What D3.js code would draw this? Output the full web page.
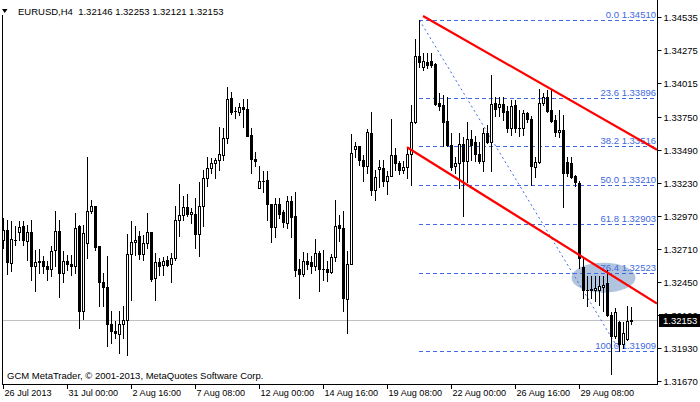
<!DOCTYPE html>
<html><head><meta charset="utf-8">
<script src="https://cdn.jsdelivr.net/npm/d3@7"></script>
<style>
html,body{margin:0;padding:0;background:#fff;}
svg{display:block;font-family:"Liberation Sans",Arial,sans-serif;}
</style></head><body>
<svg id="chart" width="700" height="402"></svg>
<script>
// ---------- DATA ----------
const symbolTitle = "EURUSD,H4";
const copyright = "GCM MetaTrader, \u00A9 2001-2013, MetaQuotes Software Corp.";
const opens = [1.32782,1.32861,1.32599,1.32782,1.32840,1.32887,1.32769,1.32843,1.32573,1.32607,
1.32615,1.32578,1.32552,1.32699,1.32853,1.32520,1.32615,1.32594,1.32573,1.32887,
1.32219,1.32756,1.33010,1.33050,1.32730,1.32447,1.32410,1.32120,1.32067,1.32041,
1.32120,1.32154,1.32672,1.32764,1.32814,1.32667,1.32756,1.32843,1.32478,1.32604,
1.32583,1.32620,1.32591,1.32638,1.32940,1.32976,1.33042,1.32984,1.32987,1.32827,
1.33044,1.33267,1.33346,1.33385,1.33411,1.33445,1.33581,1.33896,1.33796,1.33791,
1.33825,1.33809,1.33607,1.33419,1.33186,1.33246,1.33254,1.33065,1.32879,1.33065,
1.33000,1.32913,1.33084,1.32966,1.32554,1.32512,1.32617,1.32604,1.32573,1.32677,
1.32552,1.32554,1.32531,1.32643,1.32895,1.32874,1.32316,1.32591,1.33495,1.33521,
1.33411,1.33366,1.33621,1.33170,1.33338,1.33346,1.33241,1.33280,1.33450,1.33385,
1.33327,1.33353,1.33458,1.33707,1.34228,1.34145,1.34184,1.34189,1.34163,1.33856,
1.33843,1.33717,1.33529,1.33359,1.33385,1.33534,1.33398,1.33573,1.33550,1.33458,
1.33398,1.33621,1.33555,1.33856,1.33830,1.33849,1.33796,1.33660,1.33843,1.33660,
1.33660,1.33778,1.33731,1.33353,1.33393,1.33856,1.33909,1.33804,1.33725,1.33626,
1.33647,1.33390,1.33385,1.33280,1.33232,1.32571,1.32388,1.32393,1.32383,1.32383,
1.32406,1.32443,1.32190,1.32021,1.32137,1.31964,1.32003,1.32146];
const highs = [1.32953,1.32934,1.32927,1.32887,1.32927,1.32927,1.32895,1.32940,1.32704,1.32709,
1.32651,1.32612,1.32730,1.33010,1.32940,1.32691,1.32665,1.32665,1.32992,1.32900,
1.32900,1.33432,1.33092,1.33050,1.32730,1.32520,1.32657,1.32219,1.32146,1.32224,
1.32258,1.32830,1.32932,1.32887,1.32848,1.32822,1.32992,1.32843,1.32678,1.32636,
1.32646,1.32651,1.32678,1.33050,1.33223,1.33123,1.33141,1.33031,1.33110,1.33236,
1.33332,1.33437,1.33424,1.33424,1.33673,1.33660,1.33982,1.33948,1.33830,1.33856,
1.33888,1.33888,1.33660,1.33469,1.33359,1.33319,1.33325,1.33065,1.33110,1.33110,
1.33018,1.33123,1.33123,1.33159,1.32630,1.32683,1.32677,1.32656,1.32790,1.32690,
1.32704,1.32612,1.32670,1.33097,1.32979,1.33005,1.32696,1.33615,1.33555,1.33521,
1.33450,1.33655,1.33786,1.33332,1.33411,1.33411,1.33319,1.33731,1.33503,1.33400,
1.33398,1.33503,1.33843,1.34359,1.34510,1.34249,1.34249,1.34249,1.34171,1.33935,
1.33922,1.33909,1.33621,1.33437,1.33621,1.33594,1.33712,1.33647,1.33602,1.33555,
1.33660,1.33686,1.34079,1.33904,1.33904,1.33904,1.33835,1.33883,1.33883,1.33804,
1.33804,1.33791,1.33757,1.33437,1.33969,1.33935,1.33961,1.33966,1.33765,1.33804,
1.33765,1.33437,1.33437,1.33293,1.33248,1.32637,1.32498,1.32498,1.32493,1.32493,
1.32493,1.32540,1.32210,1.32247,1.32140,1.32137,1.32257,1.32253];
const lows = [1.32717,1.32513,1.32534,1.32743,1.32777,1.32743,1.32625,1.32468,1.32376,1.32520,
1.32520,1.32463,1.32494,1.32573,1.32332,1.32447,1.32547,1.32507,1.32520,1.32088,
1.32159,1.32638,1.32992,1.32704,1.32258,1.32258,1.31944,1.31970,1.32010,1.31892,
1.32010,1.31876,1.32311,1.32665,1.32630,1.32625,1.32717,1.32455,1.32311,1.32507,
1.32507,1.32573,1.32450,1.32625,1.32809,1.32940,1.32966,1.32913,1.32717,1.32651,
1.32892,1.33201,1.33306,1.33267,1.33332,1.33406,1.33542,1.33773,1.33738,1.33765,
1.33668,1.33602,1.33311,1.33364,1.33186,1.33159,1.32939,1.32761,1.32803,1.32952,
1.32879,1.32874,1.32803,1.32494,1.32324,1.32494,1.32554,1.32520,1.32546,1.32376,
1.32468,1.32455,1.32520,1.32612,1.32769,1.32219,1.32049,1.32591,1.33437,1.33372,
1.33241,1.33306,1.33131,1.33091,1.33196,1.33201,1.33141,1.33280,1.33332,1.33300,
1.33306,1.33267,1.33214,1.33699,1.34145,1.34118,1.34131,1.34145,1.33843,1.33804,
1.33516,1.33516,1.33332,1.33306,1.33188,1.32966,1.33233,1.33411,1.33398,1.33385,
1.33319,1.33542,1.33319,1.33752,1.33752,1.33725,1.33626,1.33607,1.33626,1.33600,
1.33607,1.33712,1.33209,1.33272,1.33385,1.33843,1.33791,1.33712,1.33600,1.33594,
1.33039,1.33280,1.33267,1.33207,1.32560,1.32323,1.32257,1.32323,1.32296,1.32270,
1.32218,1.32180,1.31727,1.32011,1.31909,1.31930,1.31995,1.32121];
const closes = [1.32856,1.32604,1.32788,1.32777,1.32882,1.32782,1.32840,1.32573,1.32607,1.32612,
1.32573,1.32552,1.32693,1.32851,1.32520,1.32615,1.32591,1.32573,1.32874,1.32219,
1.32835,1.33010,1.33050,1.32725,1.32447,1.32410,1.32120,1.32062,1.32049,1.32115,
1.32154,1.32672,1.32764,1.32777,1.32667,1.32756,1.32843,1.32473,1.32604,1.32578,
1.32615,1.32583,1.32638,1.32940,1.32976,1.33042,1.32984,1.33002,1.32827,1.33050,
1.33267,1.33346,1.33385,1.33411,1.33456,1.33581,1.33888,1.33786,1.33796,1.33825,
1.33809,1.33602,1.33414,1.33398,1.33246,1.33246,1.33065,1.32879,1.33065,1.32984,
1.32918,1.33089,1.32960,1.32546,1.32512,1.32617,1.32594,1.32573,1.32677,1.32552,
1.32552,1.32531,1.32643,1.32892,1.32874,1.32324,1.32591,1.33463,1.33516,1.33411,
1.33366,1.33628,1.33170,1.33275,1.33353,1.33241,1.33280,1.33445,1.33385,1.33327,
1.33353,1.33458,1.33707,1.34228,1.34184,1.34189,1.34158,1.34158,1.33849,1.33835,
1.33712,1.33529,1.33351,1.33385,1.33534,1.33398,1.33573,1.33529,1.33456,1.33403,
1.33621,1.33555,1.33849,1.33809,1.33849,1.33791,1.33660,1.33838,1.33660,1.33660,
1.33783,1.33731,1.33359,1.33393,1.33856,1.33909,1.33799,1.33720,1.33626,1.33647,
1.33306,1.33306,1.33272,1.33233,1.32637,1.32388,1.32388,1.32383,1.32401,1.32414,
1.32427,1.32190,1.32026,1.32210,1.31964,1.32050,1.32139,1.32153];

const timeTickBars = [0,16,32,48,64,80,96,112,128,144];
const timeTickLabels = ["26 Jul 2013","31 Jul 00:00","2 Aug 16:00","7 Aug 08:00","12 Aug 00:00",
  "14 Aug 16:00","19 Aug 08:00","22 Aug 00:00","26 Aug 16:00","29 Aug 08:00"];
const priceTicks = [1.34535,1.34275,1.34015,1.33750,1.33490,1.33230,1.32970,1.32710,1.32450,1.32190,1.31930,1.31670];

const fibLevels = ["0.0","23.6","38.2","50.0","61.8","76.4","100.0"];
const fibPrices = [1.34510,1.33896,1.33516,1.33210,1.32903,1.32523,1.31909];
const fibAnchorBars = [104,154];          // swing high bar, swing low bar
const channelUpper = [[105,1.34543],[160,1.33553]];
const channelLower = [[101,1.33510],[160,1.32348]];
const ellipseCenter = [150,1.32483];
const ellipseRadius = [7.9,0.00118];     // in bars, in price
const lastPrice = 1.32153;

// ---------- LAYOUT ----------
const W = 700, H = 402;
const plotL = 2, plotR = 657, plotT = 0, plotB = 384;
const svg = d3.select("#chart");
svg.append("rect").attr("width",W).attr("height",H).attr("fill","#fff");

const x = d3.scaleLinear().domain([0,163.5]).range([3,657]).interpolate(d3.interpolateRound);
const y = d3.scaleLinear().domain([1.31670,1.34535]).range([381,17]).interpolate(d3.interpolateRound);
const yf = d3.scaleLinear().domain([1.31670,1.34535]).range([381,17]);
const FS = 9.5;

svg.append("clipPath").attr("id","plotClip").append("rect")
  .attr("x",plotL).attr("y",plotT).attr("width",plotR-plotL).attr("height",plotB-plotT);
const plot = svg.append("g").attr("clip-path","url(#plotClip)");

// ellipse
{
  const cx = x(ellipseCenter[0]), cy = yf(ellipseCenter[1]);
  const rx = x(ellipseCenter[0]+ellipseRadius[0]) - cx;
  const ry = yf(ellipseCenter[1]-ellipseRadius[1]) - cy;
  plot.append("ellipse").attr("cx",cx+0.5).attr("cy",cy).attr("rx",rx).attr("ry",ry)
    .attr("fill","#B0C4DE");
}

// current price line
plot.append("line").attr("x1",plotL).attr("x2",plotR)
  .attr("y1",y(lastPrice)+0.5).attr("y2",y(lastPrice)+0.5)
  .attr("stroke","#C0C0C0").attr("stroke-width",1);

// fibonacci
const fibBlue = "#4169E1";
const fibG = plot.append("g");
fibG.selectAll("line.fib").data(fibPrices).join("line").attr("class","fib")
  .attr("x1",x(fibAnchorBars[0])).attr("x2",plotR)
  .attr("y1",d=>y(d)+0.5).attr("y2",d=>y(d)+0.5)
  .attr("stroke",fibBlue).attr("stroke-width",1).attr("stroke-dasharray","4,3")
  .attr("shape-rendering","crispEdges");
fibG.append("line")
  .attr("x1",x(fibAnchorBars[0])+0.5).attr("y1",yf(fibPrices[0]))
  .attr("x2",x(fibAnchorBars[1])+0.5).attr("y2",yf(fibPrices[fibPrices.length-1]))
  .attr("stroke",fibBlue).attr("stroke-width",1).attr("stroke-dasharray","2,3");
fibG.selectAll("text").data(fibPrices).join("text")
  .attr("x",plotR-1).attr("y",d=>y(d)-2)
  .attr("text-anchor","end").attr("font-size",FS).attr("fill",fibBlue)
  .text((d,i)=>fibLevels[i]+" "+d.toFixed(5));

// candles
const candles = plot.append("g").attr("shape-rendering","crispEdges");
d3.range(opens.length).forEach(i=>{
  const cx = x(i);
  const o=opens[i], h=highs[i], l=lows[i], c=closes[i];
  const yh=y(h), yl=y(l), yo=y(o), yc=y(c);
  candles.append("rect").attr("x",cx).attr("y",yh).attr("width",1).attr("height",Math.max(1,yl-yh+1)).attr("fill","#000");
  if (yo===yc) {
    candles.append("rect").attr("x",cx-1).attr("y",yo).attr("width",3).attr("height",1).attr("fill","#000");
  } else if (c < o) {
    candles.append("rect").attr("x",cx-1).attr("y",yo).attr("width",3).attr("height",yc-yo+1).attr("fill","#000");
  } else {
    candles.append("rect").attr("x",cx-0.5).attr("y",yc+0.5).attr("width",2).attr("height",yo-yc)
      .attr("fill","#fff").attr("stroke","#000").attr("stroke-width",1);
  }
});

// channel lines (rays to the right edge)
function ray(pts){
  const [a,b] = pts;
  const slope = (b[1]-a[1])/(b[0]-a[0]);
  const endBar = 163.5;
  return [[x(a[0]),yf(a[1])],[x(endBar),yf(a[1]+slope*(endBar-a[0]))]];
}
[channelUpper, channelLower].forEach(p=>{
  const r = ray(p);
  plot.append("line").attr("x1",r[0][0]).attr("y1",r[0][1]).attr("x2",r[1][0]).attr("y2",r[1][1])
    .attr("stroke","#FF0000").attr("stroke-width",2.2);
});

// frame
svg.append("line").attr("x1",plotL+0.5).attr("x2",plotL+0.5).attr("y1",15).attr("y2",plotB+0.5).attr("stroke","#000");
svg.append("line").attr("x1",plotR+0.5).attr("x2",plotR+0.5).attr("y1",0).attr("y2",plotB+0.5).attr("stroke","#000");
svg.append("line").attr("x1",plotL).attr("x2",plotR+1).attr("y1",plotB+0.5).attr("y2",plotB+0.5).attr("stroke","#000");

// right axis
const yAxis = svg.append("g").attr("transform",`translate(${plotR+0.5},0)`)
  .call(d3.axisRight(y).tickValues(priceTicks).tickSize(4).tickPadding(2).tickFormat(d3.format(".5f")));
yAxis.select(".domain").remove();
yAxis.attr("font-family",null).attr("font-size",null);
yAxis.selectAll("text").attr("font-size",FS).attr("fill","#000");

// bottom axis
const xAxis = svg.append("g").attr("transform",`translate(0,${plotB})`)
  .call(d3.axisBottom(x).tickValues(timeTickBars).tickSize(5).tickFormat((d,i)=>timeTickLabels[i]));
xAxis.select(".domain").remove();
xAxis.attr("font-family",null).attr("font-size",null);
xAxis.selectAll("text").attr("font-size",9.1).attr("fill","#000")
  .attr("text-anchor","start").attr("x",1).attr("y",12).attr("dy",null);

// last price box
{
  const py = y(lastPrice);
  svg.append("rect").attr("x",plotR+2).attr("y",py-6).attr("width",W-plotR-2).attr("height",13).attr("fill","#000");
  svg.append("text").attr("x",plotR+6).attr("y",py+4).attr("font-size",FS).attr("fill","#fff").text(lastPrice.toFixed(5));
}

// header
svg.append("path").attr("d","M2,9 L7.5,9 L4.75,13 Z").attr("fill","#000");
svg.append("text").attr("x",18).attr("y",15).attr("font-size",FS).attr("fill","#000")
  .attr("xml:space","preserve").style("white-space","pre")
  .text(symbolTitle+"  "+[opens[opens.length-1],highs[highs.length-1],lows[lows.length-1],closes[closes.length-1]].map(v=>v.toFixed(5)).join(" "));

// copyright
svg.append("text").attr("x",7).attr("y",379).attr("font-size",FS).attr("fill","#000").text(copyright);
</script>
</body></html>
